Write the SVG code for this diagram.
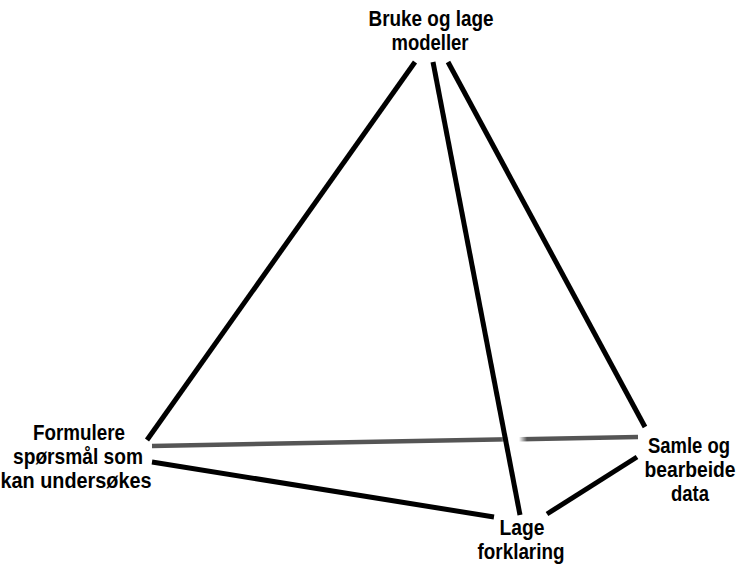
<svg xmlns="http://www.w3.org/2000/svg" width="738" height="568" viewBox="0 0 738 568">
<style>
.lbl{font-family:"Liberation Sans",Arial,sans-serif;font-weight:bold;font-size:22.5px;fill:#000;text-anchor:middle}
.edge{stroke:#000;stroke-width:5;fill:none}
</style>
<defs>
<linearGradient id="fade" gradientUnits="userSpaceOnUse" x1="152" y1="0" x2="638" y2="0">
<stop offset="0" stop-color="#555"/>
<stop offset="0.7181" stop-color="#555"/>
<stop offset="0.7346" stop-color="#fff"/>
<stop offset="0.7551" stop-color="#fff"/>
<stop offset="0.7716" stop-color="#555"/>
<stop offset="1" stop-color="#555"/>
</linearGradient>
</defs>
<rect width="738" height="568" fill="#fff"/>
<g id="connectors">
<line x1="152" y1="446" x2="638" y2="437" stroke="url(#fade)" stroke-width="4.5"/>
<line class="edge" x1="415" y1="62" x2="147" y2="440"/>
<line class="edge" x1="433" y1="62" x2="520" y2="515"/>
<line class="edge" x1="448" y1="62" x2="645" y2="427"/>
<line class="edge" x1="152" y1="462" x2="494" y2="517"/>
<line class="edge" x1="547" y1="514" x2="637" y2="457"/>
</g>
<g id="node-modeller">
<text class="lbl" transform="translate(431,26) scale(0.87,1)" textLength="143.7" lengthAdjust="spacingAndGlyphs">Bruke og lage</text>
<text class="lbl" transform="translate(430,50) scale(0.87,1)" textLength="88.5" lengthAdjust="spacingAndGlyphs">modeller</text>
</g>
<g id="node-formulere">
<text class="lbl" transform="translate(79,440) scale(0.87,1)" textLength="105.7" lengthAdjust="spacingAndGlyphs">Formulere</text>
<text class="lbl" transform="translate(78,464) scale(0.87,1)" textLength="149.4" lengthAdjust="spacingAndGlyphs">spørsmål som</text>
<text class="lbl" transform="translate(76,488) scale(0.87,1)" textLength="173.6" lengthAdjust="spacingAndGlyphs">kan undersøkes</text>
</g>
<g id="node-samle">
<text class="lbl" transform="translate(689,453) scale(0.87,1)" textLength="94.3" lengthAdjust="spacingAndGlyphs">Samle og</text>
<text class="lbl" transform="translate(690,477) scale(0.87,1)" textLength="104.6" lengthAdjust="spacingAndGlyphs">bearbeide</text>
<text class="lbl" transform="translate(690,501) scale(0.87,1)" textLength="43.7" lengthAdjust="spacingAndGlyphs">data</text>
</g>
<g id="node-lage">
<text class="lbl" transform="translate(522,535) scale(0.87,1)" textLength="51.7" lengthAdjust="spacingAndGlyphs">Lage</text>
<text class="lbl" transform="translate(521,559) scale(0.87,1)" textLength="100" lengthAdjust="spacingAndGlyphs">forklaring</text>
</g>
</svg>
